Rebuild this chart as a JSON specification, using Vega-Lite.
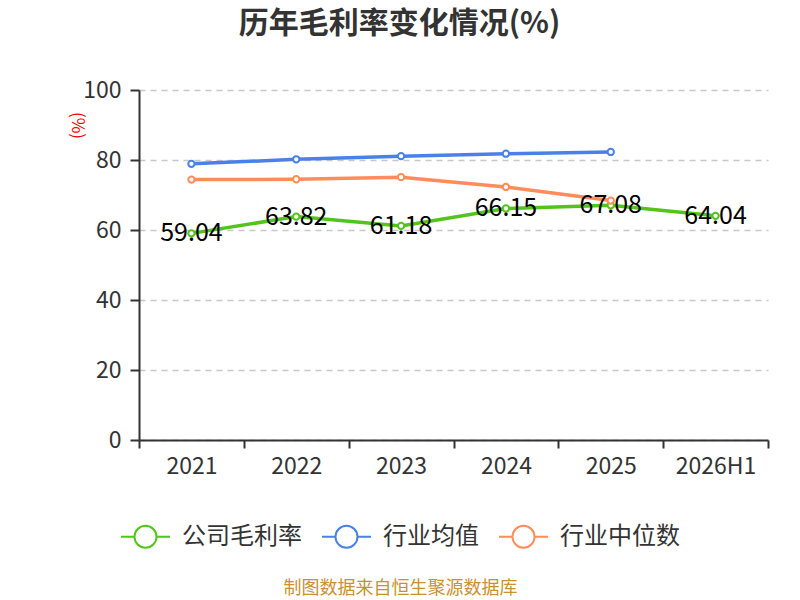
{
  "$schema": "https://vega.github.io/schema/vega-lite/v6.json",
  "autosize": "none",
  "width": 629,
  "height": 350,
  "padding": {"left": 139, "top": 90, "right": 32, "bottom": 160},
  "background": "white",
  "title": {
    "text": "历年毛利率变化情况(%)",
    "font": "Noto Sans CJK SC",
    "fontSize": 30,
    "fontWeight": "bold",
    "color": "#333333",
    "anchor": "middle",
    "dx": -54,
    "offset": 40
  },
  "config": {
    "view": {"stroke": null},
    "font": "Noto Sans CJK SC"
  },
  "data": {
    "values": [
      {"year": "2021", "series": "公司毛利率", "value": 59.04},
      {"year": "2022", "series": "公司毛利率", "value": 63.82},
      {"year": "2023", "series": "公司毛利率", "value": 61.18},
      {"year": "2024", "series": "公司毛利率", "value": 66.15},
      {"year": "2025", "series": "公司毛利率", "value": 67.08},
      {"year": "2026H1", "series": "公司毛利率", "value": 64.04},
      {"year": "2021", "series": "行业均值", "value": 78.9},
      {"year": "2022", "series": "行业均值", "value": 80.2},
      {"year": "2023", "series": "行业均值", "value": 81.1},
      {"year": "2024", "series": "行业均值", "value": 81.8},
      {"year": "2025", "series": "行业均值", "value": 82.3},
      {"year": "2021", "series": "行业中位数", "value": 74.4},
      {"year": "2022", "series": "行业中位数", "value": 74.5},
      {"year": "2023", "series": "行业中位数", "value": 75.1},
      {"year": "2024", "series": "行业中位数", "value": 72.3},
      {"year": "2025", "series": "行业中位数", "value": 68.4}
    ]
  },
  "encoding": {
    "x": {
      "field": "year",
      "type": "ordinal",
      "sort": null,
      "scale": {"paddingInner": 0, "paddingOuter": 0},
      "axis": {
        "title": "制图数据来自恒生聚源数据库",
        "titleColor": "#c8922e",
        "titleFontSize": 18,
        "titleFontWeight": "normal",
        "titleX": 261,
        "titleY": 148,
        "titleAnchor": "middle",
        "titleBaseline": "middle",
        "labelAngle": 0,
        "labelFontSize": 23,
        "labelColor": "#333333",
        "labelPadding": 7,
        "domainColor": "#333333",
        "domainWidth": 2,
        "tickColor": "#333333",
        "tickWidth": 2,
        "tickSize": 8,
        "tickBand": "extent",
        "grid": false
      }
    },
    "y": {
      "field": "value",
      "type": "quantitative",
      "scale": {"domain": [0, 100]},
      "axis": {
        "title": "(%)",
        "titleColor": "#ff0000",
        "titleFontSize": 17,
        "titleFontWeight": "normal",
        "titleAngle": 90,
        "titleX": -63,
        "titleY": 35,
        "titleAnchor": "middle",
        "titleBaseline": "middle",
        "values": [0, 20, 40, 60, 80, 100],
        "labelFontSize": 23,
        "labelColor": "#333333",
        "labelPadding": 9,
        "domainColor": "#333333",
        "domainWidth": 2,
        "tickColor": "#333333",
        "tickWidth": 2,
        "tickSize": 9,
        "gridColor": "#c8c8c8",
        "gridDash": [6, 5],
        "gridWidth": 1.5
      }
    },
    "color": {
      "field": "series",
      "type": "nominal",
      "scale": {
        "domain": ["公司毛利率", "行业均值", "行业中位数"],
        "range": ["#52c41a", "#4a80e8", "#ff8c5a"]
      },
      "legend": {
        "title": null,
        "orient": "none",
        "direction": "horizontal",
        "legendX": -19,
        "legendY": 421,
        "symbolType": "M-1,0L-0.45,0M0.45,0L1,0M-0.45,0A0.45,0.45,0,1,0,0.45,0A0.45,0.45,0,1,0,-0.45,0Z",
        "symbolSize": 2401,
        "symbolStrokeWidth": 2,
        "symbolFillColor": "white",
        "labelFontSize": 24,
        "labelColor": "#333333",
        "labelOffset": 11,
        "columnPadding": 16
      }
    }
  },
  "layer": [
    {
      "mark": {"type": "line", "strokeWidth": 3.5}
    },
    {
      "mark": {"type": "point", "filled": false, "fill": "white", "size": 40, "strokeWidth": 2, "opacity": 1}
    },
    {
      "transform": [{"filter": "datum.series === '公司毛利率'"}],
      "mark": {"type": "text", "fontSize": 25, "color": "#000000", "baseline": "middle", "dy": 0},
      "encoding": {
        "text": {"field": "value", "type": "quantitative", "format": ".2f"},
        "color": {"value": "#000000"}
      }
    }
  ]
}
